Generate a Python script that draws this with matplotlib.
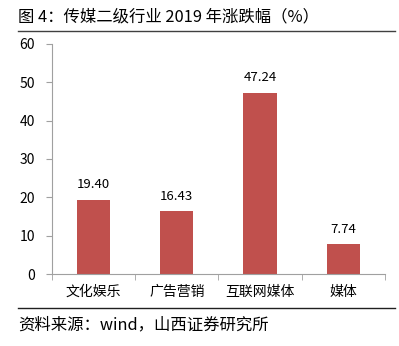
import matplotlib
matplotlib.use("Agg")
import matplotlib.pyplot as plt
from matplotlib.lines import Line2D

plt.rcParams['font.family'] = ['Noto Sans CJK SC', 'DejaVu Sans']

categories = ["文化娱乐", "广告营销", "互联网媒体", "媒体"]
values = [19.40, 16.43, 47.24, 7.74]
yticks = [0, 10, 20, 30, 40, 50, 60]

fig = plt.figure(figsize=(3.99, 3.46), dpi=100)
ax = fig.add_axes([0.130, 0.208, 0.835, 0.665])

x = list(range(len(categories)))
bars = ax.bar(x, values, width=0.4, color="#C0504D")
for xi, v in zip(x, values):
    ax.text(xi, v + 2.2, f"{v:.2f}", ha="center", va="bottom", fontsize=9.5)

ax.set_xlim(-0.5, len(categories) - 0.5)
ax.set_ylim(0, 60)
ax.set_yticks(yticks)
ax.set_xticks(x)
ax.set_xticklabels(categories, fontsize=10)
ax.tick_params(axis="y", labelsize=10, color="#A0A0A0", length=4, pad=8)
ax.tick_params(axis="x", length=0, pad=8)
# boundary ticks on x axis
ax.set_xticks([i - 0.5 for i in range(len(categories) + 1)], minor=True)
ax.tick_params(axis="x", which="minor", length=4, color="#A0A0A0")

for s in ["top", "right"]:
    ax.spines[s].set_visible(False)
for s in ["left", "bottom"]:
    ax.spines[s].set_color("#A0A0A0")

fig.text(0.045, 0.952, "图 4：传媒二级行业 2019 年涨跌幅（%）", fontsize=11.8,
         ha="left", va="center")
fig.add_artist(Line2D([0.045, 0.99], [0.910, 0.910], color="#404040", lw=1))
fig.add_artist(Line2D([0.045, 0.99], [0.110, 0.110], color="#202020", lw=1))
fig.text(0.045, 0.060, "资料来源：wind，山西证券研究所", fontsize=11.8,
         ha="left", va="center")

fig.savefig("out.png", dpi=100)
